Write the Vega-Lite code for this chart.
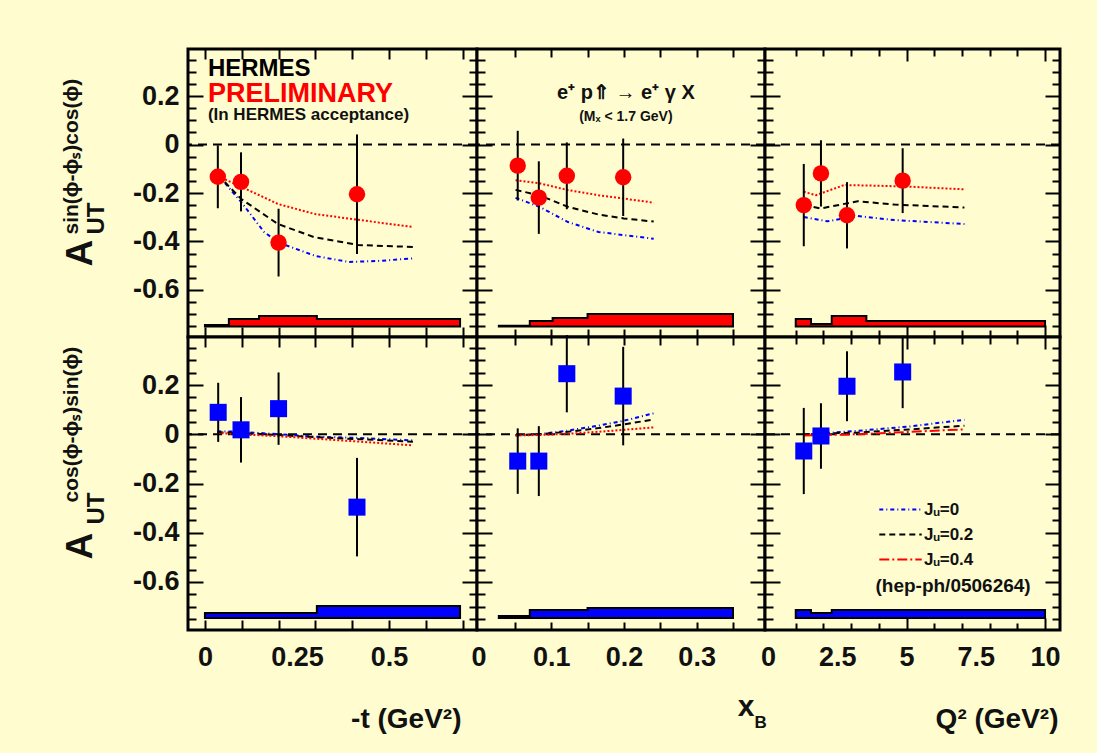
{
  "$schema": "https://vega.github.io/schema/vega-lite/v6.json",
  "padding": {"left": 58, "top": 46, "right": 40, "bottom": 25},
  "background": "#fffdd0",
  "datasets": {
    "pts": [
      {"panel": "t1", "x": 0.035, "y": -0.133, "err": 0.13},
      {"panel": "t1", "x": 0.098, "y": -0.154, "err": 0.122},
      {"panel": "t1", "x": 0.2, "y": -0.405, "err": 0.14},
      {"panel": "t1", "x": 0.413, "y": -0.205, "err": 0.247},
      {"panel": "x1", "x": 0.054, "y": -0.087, "err": 0.144},
      {"panel": "x1", "x": 0.083, "y": -0.219, "err": 0.15},
      {"panel": "x1", "x": 0.1215, "y": -0.129, "err": 0.138},
      {"panel": "x1", "x": 0.199, "y": -0.135, "err": 0.16},
      {"panel": "q1", "x": 1.29, "y": -0.25, "err": 0.17},
      {"panel": "q1", "x": 1.91, "y": -0.119, "err": 0.137},
      {"panel": "q1", "x": 2.85, "y": -0.292, "err": 0.137},
      {"panel": "q1", "x": 4.86, "y": -0.149, "err": 0.134},
      {"panel": "t2", "x": 0.036, "y": 0.089, "err": 0.12},
      {"panel": "t2", "x": 0.098, "y": 0.018, "err": 0.133},
      {"panel": "t2", "x": 0.2, "y": 0.104, "err": 0.147},
      {"panel": "t2", "x": 0.413, "y": -0.296, "err": 0.2},
      {"panel": "x2", "x": 0.054, "y": -0.109, "err": 0.133},
      {"panel": "x2", "x": 0.083, "y": -0.109, "err": 0.142},
      {"panel": "x2", "x": 0.1215, "y": 0.246, "err": 0.157},
      {"panel": "x2", "x": 0.199, "y": 0.155, "err": 0.2},
      {"panel": "q2", "x": 1.29, "y": -0.068, "err": 0.175},
      {"panel": "q2", "x": 1.91, "y": -0.007, "err": 0.133},
      {"panel": "q2", "x": 2.85, "y": 0.195, "err": 0.142},
      {"panel": "q2", "x": 4.86, "y": 0.253, "err": 0.147}
    ],
    "curves": [
      {"panel": "t1", "model": "Jᵤ=0", "x": 0.035, "y": -0.125},
      {"panel": "t1", "model": "Jᵤ=0", "x": 0.1, "y": -0.24},
      {"panel": "t1", "model": "Jᵤ=0", "x": 0.16, "y": -0.36},
      {"panel": "t1", "model": "Jᵤ=0", "x": 0.2, "y": -0.405},
      {"panel": "t1", "model": "Jᵤ=0", "x": 0.3, "y": -0.46},
      {"panel": "t1", "model": "Jᵤ=0", "x": 0.39, "y": -0.485},
      {"panel": "t1", "model": "Jᵤ=0", "x": 0.48, "y": -0.48},
      {"panel": "t1", "model": "Jᵤ=0", "x": 0.565, "y": -0.47},
      {"panel": "t1", "model": "Jᵤ=0.2", "x": 0.035, "y": -0.125},
      {"panel": "t1", "model": "Jᵤ=0.2", "x": 0.098, "y": -0.224},
      {"panel": "t1", "model": "Jᵤ=0.2", "x": 0.198, "y": -0.328},
      {"panel": "t1", "model": "Jᵤ=0.2", "x": 0.296, "y": -0.382},
      {"panel": "t1", "model": "Jᵤ=0.2", "x": 0.416, "y": -0.415},
      {"panel": "t1", "model": "Jᵤ=0.2", "x": 0.565, "y": -0.423},
      {"panel": "t1", "model": "Jᵤ=0.4", "x": 0.035, "y": -0.13},
      {"panel": "t1", "model": "Jᵤ=0.4", "x": 0.098, "y": -0.174},
      {"panel": "t1", "model": "Jᵤ=0.4", "x": 0.198, "y": -0.245},
      {"panel": "t1", "model": "Jᵤ=0.4", "x": 0.296, "y": -0.286},
      {"panel": "t1", "model": "Jᵤ=0.4", "x": 0.416, "y": -0.311},
      {"panel": "t1", "model": "Jᵤ=0.4", "x": 0.565, "y": -0.34},
      {"panel": "x1", "model": "Jᵤ=0", "x": 0.051, "y": -0.22},
      {"panel": "x1", "model": "Jᵤ=0", "x": 0.084, "y": -0.257},
      {"panel": "x1", "model": "Jᵤ=0", "x": 0.123, "y": -0.32},
      {"panel": "x1", "model": "Jᵤ=0", "x": 0.165, "y": -0.361},
      {"panel": "x1", "model": "Jᵤ=0", "x": 0.2, "y": -0.374},
      {"panel": "x1", "model": "Jᵤ=0", "x": 0.241, "y": -0.389},
      {"panel": "x1", "model": "Jᵤ=0.2", "x": 0.051, "y": -0.187},
      {"panel": "x1", "model": "Jᵤ=0.2", "x": 0.084, "y": -0.21},
      {"panel": "x1", "model": "Jᵤ=0.2", "x": 0.123, "y": -0.257},
      {"panel": "x1", "model": "Jᵤ=0.2", "x": 0.165, "y": -0.289},
      {"panel": "x1", "model": "Jᵤ=0.2", "x": 0.2, "y": -0.305},
      {"panel": "x1", "model": "Jᵤ=0.2", "x": 0.241, "y": -0.318},
      {"panel": "x1", "model": "Jᵤ=0.4", "x": 0.051, "y": -0.147},
      {"panel": "x1", "model": "Jᵤ=0.4", "x": 0.084, "y": -0.16},
      {"panel": "x1", "model": "Jᵤ=0.4", "x": 0.123, "y": -0.188},
      {"panel": "x1", "model": "Jᵤ=0.4", "x": 0.165, "y": -0.209},
      {"panel": "x1", "model": "Jᵤ=0.4", "x": 0.2, "y": -0.223},
      {"panel": "x1", "model": "Jᵤ=0.4", "x": 0.241, "y": -0.24},
      {"panel": "q1", "model": "Jᵤ=0", "x": 1.29, "y": -0.299},
      {"panel": "q1", "model": "Jᵤ=0", "x": 2.15, "y": -0.317},
      {"panel": "q1", "model": "Jᵤ=0", "x": 3.24, "y": -0.295},
      {"panel": "q1", "model": "Jᵤ=0", "x": 4.56, "y": -0.312},
      {"panel": "q1", "model": "Jᵤ=0", "x": 7.09, "y": -0.328},
      {"panel": "q1", "model": "Jᵤ=0.2", "x": 1.29, "y": -0.25},
      {"panel": "q1", "model": "Jᵤ=0.2", "x": 1.91, "y": -0.264},
      {"panel": "q1", "model": "Jᵤ=0.2", "x": 3.24, "y": -0.234},
      {"panel": "q1", "model": "Jᵤ=0.2", "x": 4.56, "y": -0.248},
      {"panel": "q1", "model": "Jᵤ=0.2", "x": 7.09, "y": -0.26},
      {"panel": "q1", "model": "Jᵤ=0.4", "x": 1.29, "y": -0.195},
      {"panel": "q1", "model": "Jᵤ=0.4", "x": 1.73, "y": -0.209},
      {"panel": "q1", "model": "Jᵤ=0.4", "x": 2.75, "y": -0.167},
      {"panel": "q1", "model": "Jᵤ=0.4", "x": 3.96, "y": -0.17},
      {"panel": "q1", "model": "Jᵤ=0.4", "x": 5.16, "y": -0.174},
      {"panel": "q1", "model": "Jᵤ=0.4", "x": 7.09, "y": -0.185},
      {"panel": "t2", "model": "Jᵤ=0", "x": 0.034, "y": 0.012},
      {"panel": "t2", "model": "Jᵤ=0", "x": 0.1, "y": 0.01},
      {"panel": "t2", "model": "Jᵤ=0", "x": 0.2, "y": 0.0},
      {"panel": "t2", "model": "Jᵤ=0", "x": 0.3, "y": -0.01},
      {"panel": "t2", "model": "Jᵤ=0", "x": 0.42, "y": -0.015},
      {"panel": "t2", "model": "Jᵤ=0", "x": 0.565, "y": -0.025},
      {"panel": "t2", "model": "Jᵤ=0.2", "x": 0.034, "y": 0.008},
      {"panel": "t2", "model": "Jᵤ=0.2", "x": 0.1, "y": 0.005},
      {"panel": "t2", "model": "Jᵤ=0.2", "x": 0.2, "y": -0.003},
      {"panel": "t2", "model": "Jᵤ=0.2", "x": 0.3, "y": -0.012},
      {"panel": "t2", "model": "Jᵤ=0.2", "x": 0.42, "y": -0.02},
      {"panel": "t2", "model": "Jᵤ=0.2", "x": 0.565, "y": -0.03},
      {"panel": "t2", "model": "Jᵤ=0.4", "x": 0.034, "y": 0.005},
      {"panel": "t2", "model": "Jᵤ=0.4", "x": 0.1, "y": 0.0},
      {"panel": "t2", "model": "Jᵤ=0.4", "x": 0.2, "y": -0.008},
      {"panel": "t2", "model": "Jᵤ=0.4", "x": 0.3, "y": -0.018},
      {"panel": "t2", "model": "Jᵤ=0.4", "x": 0.42, "y": -0.03},
      {"panel": "t2", "model": "Jᵤ=0.4", "x": 0.565, "y": -0.045},
      {"panel": "x2", "model": "Jᵤ=0", "x": 0.051, "y": -0.005},
      {"panel": "x2", "model": "Jᵤ=0", "x": 0.084, "y": 0.0},
      {"panel": "x2", "model": "Jᵤ=0", "x": 0.123, "y": 0.015},
      {"panel": "x2", "model": "Jᵤ=0", "x": 0.165, "y": 0.035},
      {"panel": "x2", "model": "Jᵤ=0", "x": 0.2, "y": 0.055},
      {"panel": "x2", "model": "Jᵤ=0", "x": 0.241, "y": 0.085},
      {"panel": "x2", "model": "Jᵤ=0.2", "x": 0.051, "y": -0.003},
      {"panel": "x2", "model": "Jᵤ=0.2", "x": 0.084, "y": 0.0},
      {"panel": "x2", "model": "Jᵤ=0.2", "x": 0.123, "y": 0.01},
      {"panel": "x2", "model": "Jᵤ=0.2", "x": 0.165, "y": 0.025},
      {"panel": "x2", "model": "Jᵤ=0.2", "x": 0.2, "y": 0.04},
      {"panel": "x2", "model": "Jᵤ=0.2", "x": 0.241, "y": 0.06},
      {"panel": "x2", "model": "Jᵤ=0.4", "x": 0.051, "y": -0.005},
      {"panel": "x2", "model": "Jᵤ=0.4", "x": 0.084, "y": -0.003},
      {"panel": "x2", "model": "Jᵤ=0.4", "x": 0.123, "y": 0.002},
      {"panel": "x2", "model": "Jᵤ=0.4", "x": 0.165, "y": 0.01},
      {"panel": "x2", "model": "Jᵤ=0.4", "x": 0.2, "y": 0.018},
      {"panel": "x2", "model": "Jᵤ=0.4", "x": 0.241, "y": 0.028},
      {"panel": "q2", "model": "Jᵤ=0", "x": 1.29, "y": -0.002},
      {"panel": "q2", "model": "Jᵤ=0", "x": 3.24, "y": 0.014},
      {"panel": "q2", "model": "Jᵤ=0", "x": 5.16, "y": 0.032},
      {"panel": "q2", "model": "Jᵤ=0", "x": 7.09, "y": 0.059},
      {"panel": "q2", "model": "Jᵤ=0.2", "x": 1.29, "y": 0.0},
      {"panel": "q2", "model": "Jᵤ=0.2", "x": 3.24, "y": 0.007},
      {"panel": "q2", "model": "Jᵤ=0.2", "x": 5.16, "y": 0.02},
      {"panel": "q2", "model": "Jᵤ=0.2", "x": 7.09, "y": 0.035},
      {"panel": "q2", "model": "Jᵤ=0.4", "x": 1.29, "y": -0.005},
      {"panel": "q2", "model": "Jᵤ=0.4", "x": 3.24, "y": 0.0},
      {"panel": "q2", "model": "Jᵤ=0.4", "x": 5.16, "y": 0.01},
      {"panel": "q2", "model": "Jᵤ=0.4", "x": 7.09, "y": 0.02}
    ],
    "sys": [
      {"panel": "t1", "x": 0, "y": -0.745},
      {"panel": "t1", "x": 0.065, "y": -0.721},
      {"panel": "t1", "x": 0.147, "y": -0.708},
      {"panel": "t1", "x": 0.304, "y": -0.721},
      {"panel": "t1", "x": 0.693, "y": -0.721},
      {"panel": "x1", "x": 0.028, "y": -0.748},
      {"panel": "x1", "x": 0.0706, "y": -0.729},
      {"panel": "x1", "x": 0.102, "y": -0.717},
      {"panel": "x1", "x": 0.15, "y": -0.7},
      {"panel": "x1", "x": 0.35, "y": -0.7},
      {"panel": "q1", "x": 1.0, "y": -0.721},
      {"panel": "q1", "x": 1.55, "y": -0.741},
      {"panel": "q1", "x": 2.3, "y": -0.708},
      {"panel": "q1", "x": 3.55, "y": -0.729},
      {"panel": "q1", "x": 10, "y": -0.729},
      {"panel": "t2", "x": 0, "y": -0.726},
      {"panel": "t2", "x": 0.065, "y": -0.726},
      {"panel": "t2", "x": 0.147, "y": -0.726},
      {"panel": "t2", "x": 0.304, "y": -0.698},
      {"panel": "t2", "x": 0.693, "y": -0.698},
      {"panel": "x2", "x": 0.028, "y": -0.738},
      {"panel": "x2", "x": 0.0706, "y": -0.714},
      {"panel": "x2", "x": 0.102, "y": -0.714},
      {"panel": "x2", "x": 0.15, "y": -0.706},
      {"panel": "x2", "x": 0.35, "y": -0.706},
      {"panel": "q2", "x": 1.0, "y": -0.714},
      {"panel": "q2", "x": 1.55, "y": -0.726},
      {"panel": "q2", "x": 2.3, "y": -0.714},
      {"panel": "q2", "x": 3.55, "y": -0.714},
      {"panel": "q2", "x": 10, "y": -0.714}
    ]
  },
  "columns": 3,
  "spacing": 0,
  "bounds": "flush",
  "resolve": {"scale": {"color": "independent", "strokeDash": "independent"}},
  "concat": [
    {
      "width": 289, "height": 288,
      "resolve": {"axis": {"x": "independent", "y": "independent"}},
      "layer": [
        {"data": {"name": "sys"}, "transform": [{"filter": "datum.panel === 't1'"}],
         "mark": {"type": "area", "interpolate": "step-after", "fill": "#ff0000", "stroke": "#000000", "strokeWidth": 2, "opacity": 1},
         "encoding": {
           "x": {"field": "x", "type": "quantitative", "scale": {"domain": [-0.046, 0.739], "nice": false, "zero": false},
                 "axis": {"orient": "bottom", "values": [0, 0.1, 0.2, 0.3, 0.4, 0.5, 0.6, 0.7], "labels": false, "title": null, "tickSize": -10}},
           "y": {"field": "y", "type": "quantitative", "scale": {"domain": [-0.795, 0.395], "nice": false, "zero": false},
                 "axis": {"orient": "left", "values": [-0.75, -0.7, -0.65, -0.6, -0.55, -0.5, -0.45, -0.4, -0.35, -0.3, -0.25, -0.2, -0.15, -0.1, -0.05, 0, 0.05, 0.1, 0.15, 0.2, 0.25, 0.3, 0.35], "labels": false, "title": null,
                          "tickSize": {"condition": {"test": "abs(datum.value*5-round(datum.value*5))<0.001", "value": -15}, "value": -8}}},
           "y2": {"datum": -0.752}}},
        {"data": {"values": [{}]}, "mark": {"type": "rule", "strokeDash": [9, 6], "strokeWidth": 2, "color": "#000000"},
         "encoding": {"y": {"datum": 0, "type": "quantitative", "axis": null}}},
        {"data": {"name": "curves"}, "transform": [{"filter": "datum.panel === 't1'"}],
         "mark": {"type": "line", "strokeWidth": 2},
         "encoding": {
           "x": {"field": "x", "type": "quantitative", "axis": null},
           "y": {"field": "y", "type": "quantitative",
                 "axis": {"orient": "left", "values": [-0.6, -0.4, -0.2, 0, 0.2], "ticks": false, "labelExpr": "toString(datum.value)", "labelPadding": 9,
                          "title": "A", "titleX": -97, "titleY": 217, "titleAngle": 270, "titleAlign": "left", "titleBaseline": "alphabetic", "titleFontSize": 37}},
           "color": {"field": "model", "type": "nominal", "scale": {"domain": ["Jᵤ=0", "Jᵤ=0.2", "Jᵤ=0.4"], "range": ["#0000ff", "#000000", "#ff0000"]}, "legend": null},
           "strokeDash": {"field": "model", "type": "nominal", "scale": {"domain": ["Jᵤ=0", "Jᵤ=0.2", "Jᵤ=0.4"], "range": [[4, 3, 1, 3], [6, 4], [2, 2]]}, "legend": null}}},
        {"data": {"name": "pts"}, "transform": [{"filter": "datum.panel === 't1'"}],
         "mark": {"type": "errorbar", "ticks": false, "thickness": 2, "color": "#000000"},
         "encoding": {"x": {"field": "x", "type": "quantitative", "axis": null}, "y": {"field": "y", "type": "quantitative", "axis": null}, "yError": {"field": "err"}}},
        {"data": {"name": "pts"}, "transform": [{"filter": "datum.panel === 't1'"}],
         "mark": {"type": "point", "shape": "circle", "filled": true, "size": 270, "color": "#ff0000", "opacity": 1},
         "encoding": {
           "x": {"field": "x", "type": "quantitative",
                 "axis": {"orient": "top", "values": [0, 0.1, 0.2, 0.3, 0.4, 0.5, 0.6, 0.7], "labels": false, "tickSize": -10,
                          "title": "sin(ϕ-ϕₛ)cos(ϕ)", "titleX": -111, "titleY": 185, "titleAngle": 270, "titleAlign": "left", "titleBaseline": "alphabetic", "titleFontSize": 21}},
           "y": {"field": "y", "type": "quantitative",
                 "axis": {"orient": "right", "values": [-0.75, -0.7, -0.65, -0.6, -0.55, -0.5, -0.45, -0.4, -0.35, -0.3, -0.25, -0.2, -0.15, -0.1, -0.05, 0, 0.05, 0.1, 0.15, 0.2, 0.25, 0.3, 0.35], "labels": false,
                          "tickSize": {"condition": {"test": "abs(datum.value*5-round(datum.value*5))<0.001", "value": -15}, "value": -8},
                          "title": "UT", "titleX": -374, "titleY": 185, "titleAngle": 270, "titleAlign": "left", "titleBaseline": "alphabetic", "titleFontSize": 24}}}},
        {"data": {"values": [{}]}, "mark": {"type": "text", "text": "HERMES", "align": "left", "baseline": "alphabetic", "fontSize": 24, "color": "#000000"},
         "encoding": {"x": {"datum": 0.008, "type": "quantitative", "axis": null}, "y": {"datum": 0.285, "type": "quantitative", "axis": null}}},
        {"data": {"values": [{}]}, "mark": {"type": "text", "text": "PRELIMINARY", "align": "left", "baseline": "alphabetic", "fontSize": 27, "color": "#ff0000"},
         "encoding": {"x": {"datum": 0.008, "type": "quantitative", "axis": null}, "y": {"datum": 0.178, "type": "quantitative", "axis": null}}},
        {"data": {"values": [{}]}, "mark": {"type": "text", "text": "(In HERMES acceptance)", "align": "left", "baseline": "alphabetic", "fontSize": 17, "color": "#111111"},
         "encoding": {"x": {"datum": 0.008, "type": "quantitative", "axis": null}, "y": {"datum": 0.1, "type": "quantitative", "axis": null}}}
      ]
    },
    {
      "width": 288, "height": 288,
      "resolve": {"axis": {"x": "independent", "y": "independent"}},
      "layer": [
        {"data": {"name": "sys"}, "transform": [{"filter": "datum.panel === 'x1'"}],
         "mark": {"type": "area", "interpolate": "step-after", "fill": "#ff0000", "stroke": "#000000", "strokeWidth": 2, "opacity": 1},
         "encoding": {
           "x": {"field": "x", "type": "quantitative", "scale": {"domain": [-0.002, 0.394], "nice": false, "zero": false},
                 "axis": {"orient": "bottom", "values": [0.05, 0.1, 0.15, 0.2, 0.25, 0.3, 0.35], "labels": false, "title": null, "tickSize": -8}},
           "y": {"field": "y", "type": "quantitative", "scale": {"domain": [-0.795, 0.395], "nice": false, "zero": false},
                 "axis": {"orient": "left", "values": [-0.75, -0.7, -0.65, -0.6, -0.55, -0.5, -0.45, -0.4, -0.35, -0.3, -0.25, -0.2, -0.15, -0.1, -0.05, 0, 0.05, 0.1, 0.15, 0.2, 0.25, 0.3, 0.35], "labels": false, "title": null,
                          "tickSize": {"condition": {"test": "abs(datum.value*5-round(datum.value*5))<0.001", "value": -15}, "value": -8}}},
           "y2": {"datum": -0.752}}},
        {"data": {"values": [{}]}, "mark": {"type": "rule", "strokeDash": [9, 6], "strokeWidth": 2, "color": "#000000"},
         "encoding": {"y": {"datum": 0, "type": "quantitative", "axis": null}}},
        {"data": {"name": "curves"}, "transform": [{"filter": "datum.panel === 'x1'"}],
         "mark": {"type": "line", "strokeWidth": 2},
         "encoding": {
           "x": {"field": "x", "type": "quantitative", "axis": null},
           "y": {"field": "y", "type": "quantitative", "axis": null},
           "color": {"field": "model", "type": "nominal", "scale": {"domain": ["Jᵤ=0", "Jᵤ=0.2", "Jᵤ=0.4"], "range": ["#0000ff", "#000000", "#ff0000"]}, "legend": null},
           "strokeDash": {"field": "model", "type": "nominal", "scale": {"domain": ["Jᵤ=0", "Jᵤ=0.2", "Jᵤ=0.4"], "range": [[4, 3, 1, 3], [6, 4], [2, 2]]}, "legend": null}}},
        {"data": {"name": "pts"}, "transform": [{"filter": "datum.panel === 'x1'"}],
         "mark": {"type": "errorbar", "ticks": false, "thickness": 2, "color": "#000000"},
         "encoding": {"x": {"field": "x", "type": "quantitative", "axis": null}, "y": {"field": "y", "type": "quantitative", "axis": null}, "yError": {"field": "err"}}},
        {"data": {"name": "pts"}, "transform": [{"filter": "datum.panel === 'x1'"}],
         "mark": {"type": "point", "shape": "circle", "filled": true, "size": 270, "color": "#ff0000", "opacity": 1},
         "encoding": {
           "x": {"field": "x", "type": "quantitative",
                 "axis": {"orient": "top", "values": [0.05, 0.1, 0.15, 0.2, 0.25, 0.3, 0.35], "labels": false, "title": null, "tickSize": -8}},
           "y": {"field": "y", "type": "quantitative",
                 "axis": {"orient": "right", "values": [-0.75, -0.7, -0.65, -0.6, -0.55, -0.5, -0.45, -0.4, -0.35, -0.3, -0.25, -0.2, -0.15, -0.1, -0.05, 0, 0.05, 0.1, 0.15, 0.2, 0.25, 0.3, 0.35], "labels": false, "title": null,
                          "tickSize": {"condition": {"test": "abs(datum.value*5-round(datum.value*5))<0.001", "value": -15}, "value": -8}}}}},
        {"data": {"values": [{}]}, "mark": {"type": "text", "text": "e⁺ p⇑ → e⁺ γ X", "align": "center", "baseline": "alphabetic", "fontSize": 20, "color": "#111111"},
         "encoding": {"x": {"datum": 0.2027, "type": "quantitative", "axis": null}, "y": {"datum": 0.188, "type": "quantitative", "axis": null}}},
        {"data": {"values": [{}]}, "mark": {"type": "text", "text": "(Mₓ < 1.7 GeV)", "align": "center", "baseline": "alphabetic", "fontSize": 14, "color": "#111111"},
         "encoding": {"x": {"datum": 0.2027, "type": "quantitative", "axis": null}, "y": {"datum": 0.097, "type": "quantitative", "axis": null}}}
      ]
    },
    {
      "width": 295, "height": 288,
      "resolve": {"axis": {"x": "independent", "y": "independent"}},
      "layer": [
        {"data": {"name": "sys"}, "transform": [{"filter": "datum.panel === 'q1'"}],
         "mark": {"type": "area", "interpolate": "step-after", "fill": "#ff0000", "stroke": "#000000", "strokeWidth": 2, "opacity": 1},
         "encoding": {
           "x": {"field": "x", "type": "quantitative", "scale": {"domain": [-0.11, 10.54], "nice": false, "zero": false},
                 "axis": {"orient": "bottom", "values": [1, 2, 3, 4, 5, 6, 7, 8, 9, 10], "labels": false, "title": null,
                          "tickSize": {"condition": {"test": "datum.value % 5 === 0", "value": -12}, "value": -7}}},
           "y": {"field": "y", "type": "quantitative", "scale": {"domain": [-0.795, 0.395], "nice": false, "zero": false},
                 "axis": {"orient": "left", "values": [-0.75, -0.7, -0.65, -0.6, -0.55, -0.5, -0.45, -0.4, -0.35, -0.3, -0.25, -0.2, -0.15, -0.1, -0.05, 0, 0.05, 0.1, 0.15, 0.2, 0.25, 0.3, 0.35], "labels": false, "title": null,
                          "tickSize": {"condition": {"test": "abs(datum.value*5-round(datum.value*5))<0.001", "value": -15}, "value": -8}}},
           "y2": {"datum": -0.752}}},
        {"data": {"values": [{}]}, "mark": {"type": "rule", "strokeDash": [9, 6], "strokeWidth": 2, "color": "#000000"},
         "encoding": {"y": {"datum": 0, "type": "quantitative", "axis": null}}},
        {"data": {"name": "curves"}, "transform": [{"filter": "datum.panel === 'q1'"}],
         "mark": {"type": "line", "strokeWidth": 2},
         "encoding": {
           "x": {"field": "x", "type": "quantitative", "axis": null},
           "y": {"field": "y", "type": "quantitative", "axis": null},
           "color": {"field": "model", "type": "nominal", "scale": {"domain": ["Jᵤ=0", "Jᵤ=0.2", "Jᵤ=0.4"], "range": ["#0000ff", "#000000", "#ff0000"]}, "legend": null},
           "strokeDash": {"field": "model", "type": "nominal", "scale": {"domain": ["Jᵤ=0", "Jᵤ=0.2", "Jᵤ=0.4"], "range": [[4, 3, 1, 3], [6, 4], [2, 2]]}, "legend": null}}},
        {"data": {"name": "pts"}, "transform": [{"filter": "datum.panel === 'q1'"}],
         "mark": {"type": "errorbar", "ticks": false, "thickness": 2, "color": "#000000"},
         "encoding": {"x": {"field": "x", "type": "quantitative", "axis": null}, "y": {"field": "y", "type": "quantitative", "axis": null}, "yError": {"field": "err"}}},
        {"data": {"name": "pts"}, "transform": [{"filter": "datum.panel === 'q1'"}],
         "mark": {"type": "point", "shape": "circle", "filled": true, "size": 270, "color": "#ff0000", "opacity": 1},
         "encoding": {
           "x": {"field": "x", "type": "quantitative",
                 "axis": {"orient": "top", "values": [1, 2, 3, 4, 5, 6, 7, 8, 9, 10], "labels": false, "title": null,
                          "tickSize": {"condition": {"test": "datum.value % 5 === 0", "value": -12}, "value": -7}}},
           "y": {"field": "y", "type": "quantitative",
                 "axis": {"orient": "right", "values": [-0.75, -0.7, -0.65, -0.6, -0.55, -0.5, -0.45, -0.4, -0.35, -0.3, -0.25, -0.2, -0.15, -0.1, -0.05, 0, 0.05, 0.1, 0.15, 0.2, 0.25, 0.3, 0.35], "labels": false, "title": null,
                          "tickSize": {"condition": {"test": "abs(datum.value*5-round(datum.value*5))<0.001", "value": -15}, "value": -8}}}}}
      ]
    },
    {
      "width": 289, "height": 293,
      "resolve": {"axis": {"x": "independent", "y": "independent"}},
      "layer": [
        {"data": {"name": "sys"}, "transform": [{"filter": "datum.panel === 't2'"}],
         "mark": {"type": "area", "interpolate": "step-after", "fill": "#0000ff", "stroke": "#000000", "strokeWidth": 2, "opacity": 1},
         "encoding": {
           "x": {"field": "x", "type": "quantitative", "scale": {"domain": [-0.046, 0.739], "nice": false, "zero": false},
                 "axis": {"orient": "bottom", "values": [0, 0.1, 0.2, 0.3, 0.4, 0.5, 0.6, 0.7], "labels": false, "title": null, "tickSize": -10}},
           "y": {"field": "y", "type": "quantitative", "scale": {"domain": [-0.795, 0.395], "nice": false, "zero": false},
                 "axis": {"orient": "left", "values": [-0.75, -0.7, -0.65, -0.6, -0.55, -0.5, -0.45, -0.4, -0.35, -0.3, -0.25, -0.2, -0.15, -0.1, -0.05, 0, 0.05, 0.1, 0.15, 0.2, 0.25, 0.3, 0.35], "labels": false, "title": null,
                          "tickSize": {"condition": {"test": "abs(datum.value*5-round(datum.value*5))<0.001", "value": -15}, "value": -8}}},
           "y2": {"datum": -0.746}}},
        {"data": {"values": [{}]}, "mark": {"type": "rule", "strokeDash": [9, 6], "strokeWidth": 2, "color": "#000000"},
         "encoding": {"y": {"datum": 0, "type": "quantitative", "axis": null}}},
        {"data": {"name": "curves"}, "transform": [{"filter": "datum.panel === 't2'"}],
         "mark": {"type": "line", "strokeWidth": 2},
         "encoding": {
           "x": {"field": "x", "type": "quantitative",
                 "axis": {"orient": "bottom", "values": [0, 0.25, 0.5], "ticks": false, "labelExpr": "toString(datum.value)", "labelPadding": 14,
                          "title": "-t (GeV²)", "titleX": 273, "titleY": 97, "titleAlign": "right", "titleBaseline": "alphabetic", "titleFontSize": 28}},
           "y": {"field": "y", "type": "quantitative",
                 "axis": {"orient": "left", "values": [-0.6, -0.4, -0.2, 0, 0.2], "ticks": false, "labelExpr": "toString(datum.value)", "labelPadding": 9,
                          "title": "A", "titleX": -97, "titleY": 222, "titleAngle": 270, "titleAlign": "left", "titleBaseline": "alphabetic", "titleFontSize": 37}},
           "color": {"field": "model", "type": "nominal", "scale": {"domain": ["Jᵤ=0", "Jᵤ=0.2", "Jᵤ=0.4"], "range": ["#0000ff", "#000000", "#ff0000"]}, "legend": null},
           "strokeDash": {"field": "model", "type": "nominal", "scale": {"domain": ["Jᵤ=0", "Jᵤ=0.2", "Jᵤ=0.4"], "range": [[4, 3, 1, 3], [6, 4], [2, 2]]}, "legend": null}}},
        {"data": {"name": "pts"}, "transform": [{"filter": "datum.panel === 't2'"}],
         "mark": {"type": "errorbar", "ticks": false, "thickness": 2, "color": "#000000"},
         "encoding": {"x": {"field": "x", "type": "quantitative", "axis": null}, "y": {"field": "y", "type": "quantitative", "axis": null}, "yError": {"field": "err"}}},
        {"data": {"name": "pts"}, "transform": [{"filter": "datum.panel === 't2'"}],
         "mark": {"type": "point", "shape": "square", "filled": true, "size": 290, "color": "#0000ff", "opacity": 1},
         "encoding": {
           "x": {"field": "x", "type": "quantitative",
                 "axis": {"orient": "top", "values": [0, 0.1, 0.2, 0.3, 0.4, 0.5, 0.6, 0.7], "labels": false, "tickSize": -10,
                          "title": "cos(ϕ-ϕₛ)sin(ϕ)", "titleX": -111, "titleY": 165, "titleAngle": 270, "titleAlign": "left", "titleBaseline": "alphabetic", "titleFontSize": 21}},
           "y": {"field": "y", "type": "quantitative",
                 "axis": {"orient": "right", "values": [-0.75, -0.7, -0.65, -0.6, -0.55, -0.5, -0.45, -0.4, -0.35, -0.3, -0.25, -0.2, -0.15, -0.1, -0.05, 0, 0.05, 0.1, 0.15, 0.2, 0.25, 0.3, 0.35], "labels": false,
                          "tickSize": {"condition": {"test": "abs(datum.value*5-round(datum.value*5))<0.001", "value": -15}, "value": -8},
                          "title": "UT", "titleX": -374, "titleY": 187, "titleAngle": 270, "titleAlign": "left", "titleBaseline": "alphabetic", "titleFontSize": 24}}}}
      ]
    },
    {
      "width": 288, "height": 293,
      "resolve": {"axis": {"x": "independent", "y": "independent"}},
      "layer": [
        {"data": {"name": "sys"}, "transform": [{"filter": "datum.panel === 'x2'"}],
         "mark": {"type": "area", "interpolate": "step-after", "fill": "#0000ff", "stroke": "#000000", "strokeWidth": 2, "opacity": 1},
         "encoding": {
           "x": {"field": "x", "type": "quantitative", "scale": {"domain": [-0.002, 0.394], "nice": false, "zero": false},
                 "axis": {"orient": "bottom", "values": [0.05, 0.1, 0.15, 0.2, 0.25, 0.3, 0.35], "labels": false, "tickSize": -8,
                          "title": "B", "titleX": 277, "titleY": 97, "titleAlign": "left", "titleBaseline": "alphabetic", "titleFontSize": 17}},
           "y": {"field": "y", "type": "quantitative", "scale": {"domain": [-0.795, 0.395], "nice": false, "zero": false},
                 "axis": {"orient": "left", "values": [-0.75, -0.7, -0.65, -0.6, -0.55, -0.5, -0.45, -0.4, -0.35, -0.3, -0.25, -0.2, -0.15, -0.1, -0.05, 0, 0.05, 0.1, 0.15, 0.2, 0.25, 0.3, 0.35], "labels": false, "title": null,
                          "tickSize": {"condition": {"test": "abs(datum.value*5-round(datum.value*5))<0.001", "value": -15}, "value": -8}}},
           "y2": {"datum": -0.746}}},
        {"data": {"values": [{}]}, "mark": {"type": "rule", "strokeDash": [9, 6], "strokeWidth": 2, "color": "#000000"},
         "encoding": {"y": {"datum": 0, "type": "quantitative", "axis": null}}},
        {"data": {"name": "curves"}, "transform": [{"filter": "datum.panel === 'x2'"}],
         "mark": {"type": "line", "strokeWidth": 2},
         "encoding": {
           "x": {"field": "x", "type": "quantitative",
                 "axis": {"orient": "bottom", "values": [0, 0.1, 0.2, 0.3], "ticks": false, "labelExpr": "toString(datum.value)", "labelPadding": 14,
                          "title": "x", "titleX": 277, "titleY": 85, "titleAlign": "right", "titleBaseline": "alphabetic", "titleFontSize": 30}},
           "y": {"field": "y", "type": "quantitative", "axis": null},
           "color": {"field": "model", "type": "nominal", "scale": {"domain": ["Jᵤ=0", "Jᵤ=0.2", "Jᵤ=0.4"], "range": ["#0000ff", "#000000", "#ff0000"]}, "legend": null},
           "strokeDash": {"field": "model", "type": "nominal", "scale": {"domain": ["Jᵤ=0", "Jᵤ=0.2", "Jᵤ=0.4"], "range": [[4, 3, 1, 3], [6, 4], [2, 2]]}, "legend": null}}},
        {"data": {"name": "pts"}, "transform": [{"filter": "datum.panel === 'x2'"}],
         "mark": {"type": "errorbar", "ticks": false, "thickness": 2, "color": "#000000"},
         "encoding": {"x": {"field": "x", "type": "quantitative", "axis": null}, "y": {"field": "y", "type": "quantitative", "axis": null}, "yError": {"field": "err"}}},
        {"data": {"name": "pts"}, "transform": [{"filter": "datum.panel === 'x2'"}],
         "mark": {"type": "point", "shape": "square", "filled": true, "size": 290, "color": "#0000ff", "opacity": 1},
         "encoding": {
           "x": {"field": "x", "type": "quantitative",
                 "axis": {"orient": "top", "values": [0.05, 0.1, 0.15, 0.2, 0.25, 0.3, 0.35], "labels": false, "title": null, "tickSize": -8}},
           "y": {"field": "y", "type": "quantitative",
                 "axis": {"orient": "right", "values": [-0.75, -0.7, -0.65, -0.6, -0.55, -0.5, -0.45, -0.4, -0.35, -0.3, -0.25, -0.2, -0.15, -0.1, -0.05, 0, 0.05, 0.1, 0.15, 0.2, 0.25, 0.3, 0.35], "labels": false, "title": null,
                          "tickSize": {"condition": {"test": "abs(datum.value*5-round(datum.value*5))<0.001", "value": -15}, "value": -8}}}}}
      ]
    },
    {
      "width": 295, "height": 293,
      "resolve": {"axis": {"x": "independent", "y": "independent"}},
      "layer": [
        {"data": {"name": "sys"}, "transform": [{"filter": "datum.panel === 'q2'"}],
         "mark": {"type": "area", "interpolate": "step-after", "fill": "#0000ff", "stroke": "#000000", "strokeWidth": 2, "opacity": 1},
         "encoding": {
           "x": {"field": "x", "type": "quantitative", "scale": {"domain": [-0.11, 10.54], "nice": false, "zero": false},
                 "axis": {"orient": "bottom", "values": [1, 2, 3, 4, 5, 6, 7, 8, 9, 10], "labels": false, "title": null,
                          "tickSize": {"condition": {"test": "datum.value % 5 === 0", "value": -12}, "value": -7}}},
           "y": {"field": "y", "type": "quantitative", "scale": {"domain": [-0.795, 0.395], "nice": false, "zero": false},
                 "axis": {"orient": "left", "values": [-0.75, -0.7, -0.65, -0.6, -0.55, -0.5, -0.45, -0.4, -0.35, -0.3, -0.25, -0.2, -0.15, -0.1, -0.05, 0, 0.05, 0.1, 0.15, 0.2, 0.25, 0.3, 0.35], "labels": false, "title": null,
                          "tickSize": {"condition": {"test": "abs(datum.value*5-round(datum.value*5))<0.001", "value": -15}, "value": -8}}},
           "y2": {"datum": -0.746}}},
        {"data": {"values": [{}]}, "mark": {"type": "rule", "strokeDash": [9, 6], "strokeWidth": 2, "color": "#000000"},
         "encoding": {"y": {"datum": 0, "type": "quantitative", "axis": null}}},
        {"data": {"name": "curves"}, "transform": [{"filter": "datum.panel === 'q2'"}],
         "mark": {"type": "line", "strokeWidth": 2},
         "encoding": {
           "x": {"field": "x", "type": "quantitative",
                 "axis": {"orient": "bottom", "values": [0, 2.5, 5, 7.5, 10], "ticks": false, "labelExpr": "toString(datum.value)", "labelPadding": 14,
                          "title": "Q² (GeV²)", "titleX": 293, "titleY": 97, "titleAlign": "right", "titleBaseline": "alphabetic", "titleFontSize": 28}},
           "y": {"field": "y", "type": "quantitative", "axis": null},
           "color": {"field": "model", "type": "nominal", "scale": {"domain": ["Jᵤ=0", "Jᵤ=0.2", "Jᵤ=0.4"], "range": ["#0000ff", "#000000", "#ff0000"]},
                     "legend": {"orient": "none", "legendX": 113, "legendY": 160, "title": null, "symbolType": "stroke", "symbolStrokeWidth": 2, "symbolSize": 1800, "rowPadding": 0, "clipHeight": 25, "labelFontSize": 17, "labelOffset": 1}},
           "strokeDash": {"field": "model", "type": "nominal", "scale": {"domain": ["Jᵤ=0", "Jᵤ=0.2", "Jᵤ=0.4"], "range": [[4, 3, 1, 3], [6, 4], [10, 3, 2, 3]]},
                     "legend": {"orient": "none", "legendX": 113, "legendY": 160, "title": null, "symbolType": "stroke", "symbolStrokeWidth": 2, "symbolSize": 1800, "rowPadding": 0, "clipHeight": 25, "labelFontSize": 17, "labelOffset": 1}}}},
        {"data": {"name": "pts"}, "transform": [{"filter": "datum.panel === 'q2'"}],
         "mark": {"type": "errorbar", "ticks": false, "thickness": 2, "color": "#000000"},
         "encoding": {"x": {"field": "x", "type": "quantitative", "axis": null}, "y": {"field": "y", "type": "quantitative", "axis": null}, "yError": {"field": "err"}}},
        {"data": {"name": "pts"}, "transform": [{"filter": "datum.panel === 'q2'"}],
         "mark": {"type": "point", "shape": "square", "filled": true, "size": 290, "color": "#0000ff", "opacity": 1},
         "encoding": {
           "x": {"field": "x", "type": "quantitative",
                 "axis": {"orient": "top", "values": [1, 2, 3, 4, 5, 6, 7, 8, 9, 10], "labels": false, "title": null,
                          "tickSize": {"condition": {"test": "datum.value % 5 === 0", "value": -12}, "value": -7}}},
           "y": {"field": "y", "type": "quantitative",
                 "axis": {"orient": "right", "values": [-0.75, -0.7, -0.65, -0.6, -0.55, -0.5, -0.45, -0.4, -0.35, -0.3, -0.25, -0.2, -0.15, -0.1, -0.05, 0, 0.05, 0.1, 0.15, 0.2, 0.25, 0.3, 0.35], "labels": false, "title": null,
                          "tickSize": {"condition": {"test": "abs(datum.value*5-round(datum.value*5))<0.001", "value": -15}, "value": -8}}}}},
        {"data": {"values": [{}]}, "mark": {"type": "text", "text": "(hep-ph/0506264)", "align": "center", "baseline": "alphabetic", "fontSize": 19, "color": "#111111"},
         "encoding": {"x": {"datum": 6.68, "type": "quantitative", "axis": null}, "y": {"datum": -0.641, "type": "quantitative", "axis": null}}}
      ]
    }
  ],
  "config": {
    "view": {"stroke": "#000000", "strokeWidth": 3, "fill": "#fffdd0"},
    "axis": {"grid": false, "domain": false, "tickColor": "#000000", "tickWidth": 2, "labelFont": "Liberation Sans", "labelFontSize": 27, "labelFontWeight": "bold", "labelColor": "#111111", "labelFlush": false, "labelOverlap": false, "titleFont": "Liberation Sans", "titleFontWeight": "bold", "titleColor": "#111111", "titlePadding": 0},
    "text": {"font": "Liberation Sans", "fontWeight": "bold"},
    "legend": {"labelFont": "Liberation Sans", "labelFontWeight": "bold", "labelColor": "#111111"}
  }
}
